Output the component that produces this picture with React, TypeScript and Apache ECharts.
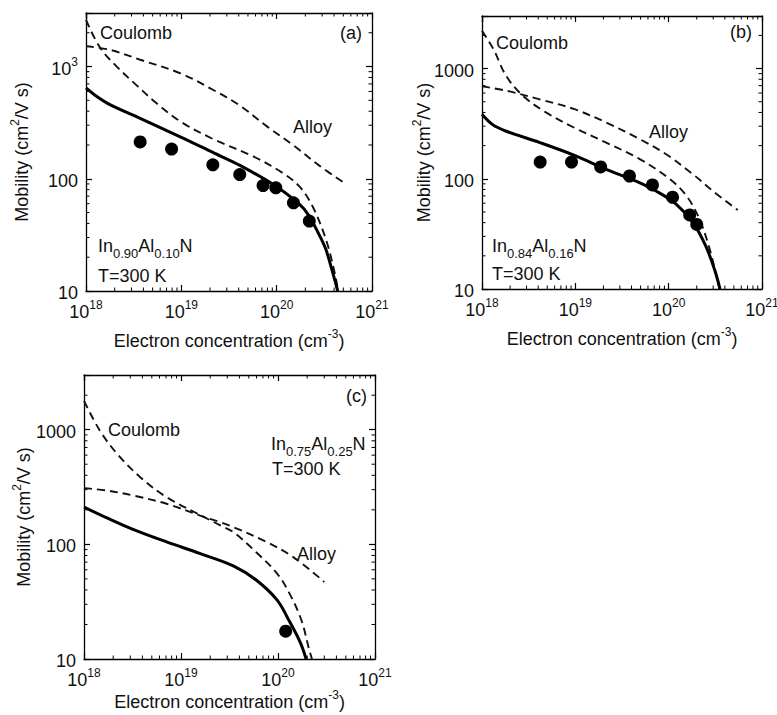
import React, { useEffect, useRef } from 'react';
import * as echarts from 'echarts';

const FONT = '"Liberation Sans", Arial, Helvetica, sans-serif';
const INK = '#111';

// ---- axis ranges ----
const X_MIN = 1e18;
const X_MAX = 1e21;
const Y_MIN = 10;
const Y_MAX = 3000;
const minorMantissas = [2, 3, 4, 5, 6, 7, 8, 9];
const xDecades = [1e18, 1e19, 1e20];
const yDecades = [10, 100, 1000];

// ---- panel (a) In0.90Al0.10N ----
const aTotal = [[1e18, 645], [1.3e18, 540], [1.78e18, 457], [3.7e18, 345], [1e19, 234], [2.19e19, 170], [4.17e19, 131], [1e20, 85], [1.74e20, 59], [2.14e20, 48], [2.63e20, 35], [3.25e20, 24], [3.8e20, 15.4], [4.37e20, 10]];
const aCoulomb = [[1e18, 2600], [1.4e18, 1480], [2.1e18, 1000], [3.4e18, 680], [5.5e18, 470], [1e19, 320], [2.2e19, 224], [5.7e19, 158], [1.17e20, 112], [1.74e20, 85], [2.4e20, 56], [3.3e20, 28.5], [4.1e20, 14], [4.4e20, 10]];
const aAlloy = [[1e18, 1515], [1.78e18, 1410], [3.7e18, 1150], [9.8e18, 870], [2.19e19, 615], [4.17e19, 445], [7.9e19, 293], [1.48e20, 200], [2.8e20, 131], [5.4e20, 89]];
const aExp = [[3.7e18, 213], [7.9e18, 184], [2.14e19, 133], [4.1e19, 109], [7.2e19, 87], [9.8e19, 83], [1.5e20, 61], [2.2e20, 42]];

// ---- panel (b) In0.84Al0.16N ----
const bTotal = [[1e18, 385], [1.3e18, 310], [1.82e18, 270], [4.17e18, 213], [9.8e18, 163], [2.14e19, 122], [4.47e19, 95], [7.4e19, 77], [1.2e20, 59], [1.82e20, 40], [2.5e20, 24.5], [3.1e20, 15], [3.55e20, 10]];
const bCoulomb = [[1e18, 2200], [1.32e18, 1510], [1.82e18, 855], [2.75e18, 565], [4.9e18, 398], [9.8e18, 290], [2.14e19, 213], [4.9e19, 151], [1.02e20, 100], [1.55e20, 70], [2.14e20, 43], [2.75e20, 23], [3.3e20, 12.5], [3.5e20, 10]];
const bAlloy = [[1e18, 690], [1.82e18, 630], [4.17e18, 525], [9.8e18, 428], [2.14e19, 324], [4.9e19, 229], [9.4e19, 167], [1.82e20, 110], [3e20, 77], [5.5e20, 52]];
const bExp = [[4.2e18, 142], [9.1e18, 142], [1.87e19, 128], [3.8e19, 106], [6.7e19, 88], [1.1e20, 68], [1.68e20, 47], [2.0e20, 38.5]];

// ---- panel (c) In0.75Al0.25N ----
const cTotal = [[1e18, 211], [1.7e18, 171], [3.2e18, 135], [7.1e18, 105], [1.58e19, 83], [3.5e19, 64.6], [6e19, 48.6], [9.8e19, 32.6], [1.32e20, 21.1], [1.7e20, 13.9], [1.95e20, 10]];
const cCoulomb = [[1e18, 1785], [1.46e18, 980], [2.2e18, 615], [3.8e18, 385], [7.1e18, 258], [1.58e19, 180], [2.6e19, 145], [3.5e19, 127], [6e19, 85], [9.8e19, 55.6], [1.32e20, 37], [1.74e20, 21.9], [2.1e20, 12], [2.24e20, 10]];
const cAlloy = [[1e18, 309], [1.7e18, 295], [3.2e18, 267], [7.1e18, 226], [1.58e19, 178], [2.6e19, 155], [3.5e19, 141], [7.6e19, 105], [1.45e20, 77], [3e20, 47]];
const cExp = [[1.2e20, 17.5]];

const panels = [
  { grid: { left: 86, top: 13, width: 286, height: 278 }, yNameGap: 55, xNameGap: 37, supY: true, total: aTotal, coulomb: aCoulomb, alloy: aAlloy, exp: aExp },
  { grid: { left: 482, top: 16, width: 280, height: 273 }, yNameGap: 49, xNameGap: 37, supY: false, total: bTotal, coulomb: bCoulomb, alloy: bAlloy, exp: bExp },
  { grid: { left: 84, top: 375, width: 291, height: 284 }, yNameGap: 51, xNameGap: 30, supY: false, total: cTotal, coulomb: cCoulomb, alloy: cAlloy, exp: cExp },
];

const isPow10 = (v: number) => Math.abs(Math.log10(v) - Math.round(Math.log10(v))) < 1e-6;

const labelRich = {
  b: { fontSize: 18, fontFamily: FONT, color: INK, lineHeight: 22, verticalAlign: 'bottom' },
  s: { fontSize: 12, fontFamily: FONT, color: INK, lineHeight: 12, verticalAlign: 'top' },
};
const nameRich = {
  t: { fontSize: 18, fontFamily: FONT, color: INK, lineHeight: 22, verticalAlign: 'bottom' },
  s: { fontSize: 12, fontFamily: FONT, color: INK, lineHeight: 12, verticalAlign: 'top' },
};

const xFormatter = (v: number) => (isPow10(v) ? `{b|10}{s|${Math.round(Math.log10(v))}}` : '');
const yFormatterPlain = (v: number) => (isPow10(v) && v < Y_MAX ? `{b|${Math.round(v)}}` : '');
const yFormatterSup = (v: number) => {
  if (!isPow10(v) || v >= Y_MAX) return '';
  const e = Math.round(Math.log10(v));
  return e >= 3 ? `{b|10}{s|${e}}` : `{b|${Math.round(v)}}`;
};

const axisLine = { show: true, onZero: false, lineStyle: { color: '#000', width: 1.3 } };
const axisTick = { show: true, inside: true, length: 6, lineStyle: { color: '#000', width: 1.2 } };

const minorData: number[][] = [];
xDecades.forEach((d) => minorMantissas.forEach((m) => minorData.push([m * d, Y_MIN, 0])));
yDecades.forEach((d) => minorMantissas.forEach((m) => { if (m * d < Y_MAX) minorData.push([X_MIN, m * d, 1]); }));

const minorRender = (params: any, api: any) => {
  const cs = params.coordSys;
  const style = { stroke: '#000', lineWidth: 1 };
  const L = 3.5;
  if (api.value(2) === 0) {
    const px = api.coord([api.value(0), Y_MIN])[0];
    return {
      type: 'group',
      children: [
        { type: 'line', shape: { x1: px, y1: cs.y + cs.height, x2: px, y2: cs.y + cs.height - L }, style },
        { type: 'line', shape: { x1: px, y1: cs.y, x2: px, y2: cs.y + L }, style },
      ],
    };
  }
  const py = api.coord([X_MIN, api.value(1)])[1];
  return {
    type: 'group',
    children: [
      { type: 'line', shape: { x1: cs.x, y1: py, x2: cs.x + L, y2: py }, style },
      { type: 'line', shape: { x1: cs.x + cs.width, y1: py, x2: cs.x + cs.width - L, y2: py }, style },
    ],
  };
};

function buildOption() {
  const grid: any[] = [];
  const xAxis: any[] = [];
  const yAxis: any[] = [];
  const series: any[] = [];
  const dashed = { color: INK, width: 1.9, type: [8, 5] };
  panels.forEach((p, i) => {
    grid.push({ ...p.grid, containLabel: false, outerBoundsMode: 'none' });
    xAxis.push({
      type: 'log', logBase: 10, gridIndex: i, position: 'bottom', min: X_MIN, max: X_MAX,
      axisLine, axisTick, splitLine: { show: false },
      axisLabel: { formatter: xFormatter, margin: 8, interval: 0, rich: labelRich },
      name: '{t|Electron concentration (cm}{s|-3}{t|)}', nameLocation: 'middle', nameGap: p.xNameGap,
      nameMoveOverlap: false,
      nameTextStyle: { fontSize: 18, fontFamily: FONT, color: INK, rich: nameRich },
    });
    xAxis.push({
      type: 'log', logBase: 10, gridIndex: i, position: 'top', min: X_MIN, max: X_MAX,
      axisLine, axisTick, splitLine: { show: false }, axisLabel: { show: false },
    });
    yAxis.push({
      type: 'log', logBase: 10, gridIndex: i, position: 'left', min: Y_MIN, max: Y_MAX,
      axisLine, axisTick, splitLine: { show: false },
      axisLabel: { formatter: p.supY ? yFormatterSup : yFormatterPlain, margin: 8, interval: 0, rich: labelRich },
      name: '{t|Mobility (cm}{s|2}{t|/V s)}', nameLocation: 'middle', nameGap: p.yNameGap, nameRotate: 90,
      nameMoveOverlap: false,
      nameTextStyle: { fontSize: 18, fontFamily: FONT, color: INK, rich: nameRich },
    });
    yAxis.push({
      type: 'log', logBase: 10, gridIndex: i, position: 'right', min: Y_MIN, max: Y_MAX,
      axisLine, axisTick, splitLine: { show: false }, axisLabel: { show: false },
    });
    const xi = 2 * i;
    const yi = 2 * i;
    series.push({
      type: 'custom', xAxisIndex: xi, yAxisIndex: yi, coordinateSystem: 'cartesian2d',
      data: minorData, encode: { x: 0, y: 1 }, renderItem: minorRender, silent: true, z: 1,
    });
    series.push({
      name: 'Alloy', type: 'line', xAxisIndex: xi, yAxisIndex: yi, data: p.alloy, showSymbol: false, symbol: 'none',
      smooth: 0.35, clip: true, lineStyle: dashed, z: 2,
    });
    series.push({
      name: 'Coulomb', type: 'line', xAxisIndex: xi, yAxisIndex: yi, data: p.coulomb, showSymbol: false, symbol: 'none',
      smooth: 0.35, clip: true, lineStyle: dashed, z: 2,
    });
    series.push({
      name: 'Total', type: 'line', xAxisIndex: xi, yAxisIndex: yi, data: p.total, showSymbol: false, symbol: 'none',
      smooth: 0.35, clip: true, lineStyle: { color: '#000', width: 3 }, z: 3,
    });
    series.push({
      name: 'Experiment', type: 'scatter', xAxisIndex: xi, yAxisIndex: yi, data: p.exp, symbol: 'circle',
      symbolSize: 13, itemStyle: { color: '#000', opacity: 1 }, z: 4,
    });
  });

  const txt = (text: string, x: number, y: number, align = 'left') => ({
    type: 'text', x, y, z: 10,
    style: { text, fontSize: 18, fontFamily: FONT, fill: INK, align, verticalAlign: 'middle' },
  });
  const subRich = {
    b: { fontSize: 18, fontFamily: FONT, fill: INK, lineHeight: 18, verticalAlign: 'top' },
    s: { fontSize: 13, fontFamily: FONT, fill: INK, lineHeight: 13, padding: [10, 0, 0, 0], verticalAlign: 'top' },
  };
  const formula = (a: string, b: string, x: number, y: number) => ({
    type: 'text', x, y, z: 10,
    style: { text: `{b|In}{s|${a}}{b|Al}{s|${b}}{b|N}`, rich: subRich, fill: INK, fontFamily: FONT, fontSize: 18, align: 'left', verticalAlign: 'top' },
  });

  const graphic = [
    txt('Coulomb', 100, 33), txt('(a)', 362, 33, 'right'), txt('Alloy', 293, 127),
    formula('0.90', '0.10', 98, 237), txt('T=300 K', 98, 276),
    txt('Coulomb', 496, 43), txt('(b)', 752, 32, 'right'), txt('Alloy', 649, 132),
    formula('0.84', '0.16', 492, 237), txt('T=300 K', 492, 274),
    txt('Coulomb', 108, 430), txt('(c)', 367, 396, 'right'),
    formula('0.75', '0.25', 271, 435), txt('T=300 K', 272, 469), txt('Alloy', 297, 554),
  ];

  return {
    animation: false,
    backgroundColor: '#fff',
    textStyle: { fontFamily: FONT },
    grid, xAxis, yAxis, series, graphic,
  };
}

export default function App() {
  const ref = useRef<HTMLDivElement>(null);
  useEffect(() => {
    const chart = echarts.init(ref.current as HTMLDivElement, null, { renderer: 'svg' });
    chart.setOption(buildOption() as any);
    return () => chart.dispose();
  }, []);
  return <div ref={ref} style={{ position: 'absolute', left: 0, top: 0, width: 777, height: 715, background: '#fff' }} />;
}
